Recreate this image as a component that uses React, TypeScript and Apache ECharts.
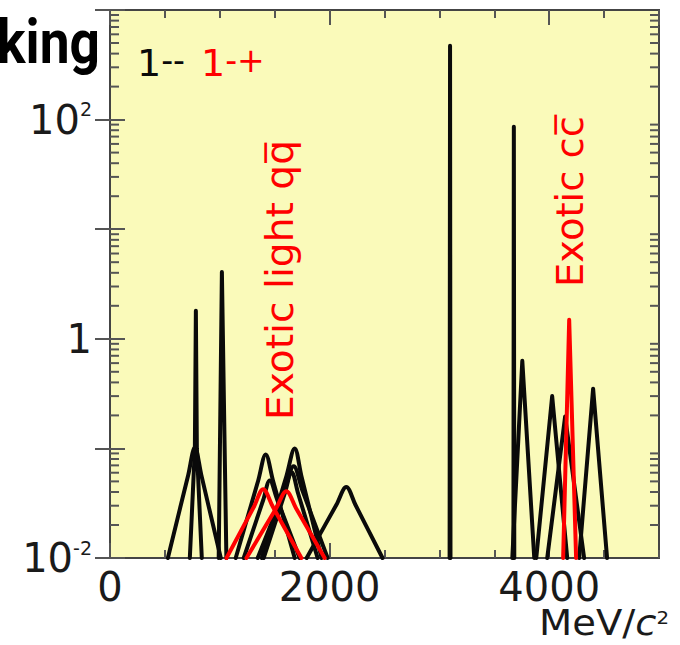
import React, { useEffect, useRef } from 'react';
import * as echarts from 'echarts';

// ---- axis definitions ----
const xMin = 0;
const xMax = 5000;
const xLabelValues = [0, 2000, 4000];
const yMin = 0.01;
const yMax = 1000;
const yLabelExponents = [-2, 0, 2];
const yMinorMantissas = [2, 3, 4, 5, 6, 7, 8, 9];
const yDecades = [0.01, 0.1, 1, 10, 100];

// ---- 1-- (black) resonance curves: [mass MeV, yield] ----
const rho770 = [[527, 0.01], [712, 0.057], [773, 0.102], [832, 0.057], [1009, 0.01]];
const omega782 = [[727, 0.01], [773, 0.1], [782, 1.8], [791, 0.1], [836, 0.01]];
const phi1020 = [[990, 0.01], [1019, 4.07], [1060, 0.01]];
const omega1420 = [[1145, 0.01], [1350, 0.051], [1418, 0.088], [1484, 0.051], [1682, 0.01]];
const rho1450 = [[1218, 0.01], [1396, 0.034], [1455, 0.051], [1523, 0.034], [1727, 0.01]];
const omega1650 = [[1382, 0.01], [1607, 0.056], [1682, 0.1], [1743, 0.056], [1927, 0.01]];
const rho1700 = [[1345, 0.01], [1591, 0.042], [1673, 0.0686], [1750, 0.042], [1982, 0.01]];
const phi1680 = [[1400, 0.01], [1591, 0.0386], [1655, 0.0605], [1714, 0.0386], [1891, 0.01]];
const rho2150 = [[1791, 0.01], [2062, 0.0306], [2152, 0.0445], [2235, 0.0306], [2482, 0.01]];
const jpsi = [[3093, 0.01], [3097, 471], [3101, 0.01]];
const psi2s = [[3674, 0.01], [3678, 86], [3682, 0.01]];
const psi3770 = [[3664, 0.01], [3755, 0.63], [3864, 0.01]];
const psi4040 = [[3882, 0.01], [4027, 0.3], [4164, 0.01]];
const psi4160 = [[3982, 0.01], [4145, 0.195], [4318, 0.01]];
const psi4415 = [[4273, 0.01], [4400, 0.35], [4527, 0.01]];

// ---- 1-+ (red) exotic curves ----
const pi1_1400 = [[1061, 0.01], [1312, 0.0295], [1395, 0.0424], [1482, 0.0295], [1743, 0.01]];
const pi1_1600 = [[1243, 0.01], [1515, 0.0286], [1606, 0.0407], [1693, 0.0286], [1955, 0.01]];
const exoticCc = [[4127, 0.01], [4182, 1.49], [4245, 0.01]];

const blackBroad = [rho770, omega1420, rho1450, omega1650, rho1700, phi1680, rho2150];
const blackNarrow = [omega782, phi1020, jpsi, psi2s, psi3770, psi4040, psi4160, psi4415];
const redBroad = [pi1_1400, pi1_1600];
const redNarrow = [exoticCc];

const BLACK = '#0a0a0a';
const RED = '#ff0000';
const TICK = '#555555';
const FONT = 'DejaVu Sans';

export default function App() {
  const ref = useRef<HTMLDivElement>(null);
  useEffect(() => {
    const chart = echarts.init(ref.current!, null, { renderer: 'svg' });

    const lineSeries = (data: number[][], color: string, smooth: number | boolean) => ({
      type: 'line',
      data,
      xAxisIndex: 0,
      yAxisIndex: 0,
      showSymbol: false,
      symbol: 'none',
      smooth,
      clip: true,
      silent: true,
      lineStyle: { color, width: 4, join: 'round', cap: 'round' },
      z: color === RED ? 4 : 3,
    });

    const minorTickData: number[][] = [];
    yDecades.forEach((d) => yMinorMantissas.forEach((m) => minorTickData.push([0, m * d])));

    const xAxisBase = (position: string, interval: number, len: number, showLabel: boolean) => ({
      type: 'value',
      gridIndex: 0,
      position,
      min: xMin,
      max: xMax,
      interval,
      axisLine: { show: false },
      splitLine: { show: false },
      axisTick: { show: true, inside: true, length: len, lineStyle: { color: TICK, width: 2 } },
      axisLabel: {
        show: showLabel,
        margin: 12,
        fontSize: 40,
        lineHeight: 34,
        fontFamily: FONT,
        color: '#1a1a1a',
        showMaxLabel: false,
        formatter: (v: number) => (xLabelValues.includes(v) ? String(v) : ''),
      },
    });

    const yAxisBase = (position: string, showLabel: boolean) => ({
      type: 'log',
      logBase: 10,
      gridIndex: 0,
      position,
      min: yMin,
      max: yMax,
      axisLine: { show: false },
      splitLine: { show: false },
      axisTick: { show: true, inside: true, length: 15, lineStyle: { color: TICK, width: 2 } },
      axisLabel: {
        show: showLabel,
        margin: 18,
        fontSize: 40,
        lineHeight: 40,
        fontFamily: FONT,
        color: '#1a1a1a',
        formatter: (v: number) => {
          const l = Math.log10(v);
          const e = Math.round(l);
          if (Math.abs(l - e) > 1e-6 || !yLabelExponents.includes(e)) return '';
          if (e === 0) return '1';
          return '10{s|' + String(e) + '}';
        },
        rich: {
          s: { fontSize: 19, lineHeight: 20, verticalAlign: 'top', fontFamily: FONT, color: '#1a1a1a' },
        },
      },
    });

    const option: any = {
      animation: false,
      grid: {
        left: 110,
        top: 10,
        right: 21,
        bottom: 87,
        show: true,
        backgroundColor: '#fafaba',
        borderColor: '#444444',
        borderWidth: 2,
      },
      xAxis: [
        xAxisBase('bottom', 2000, 15, true),
        xAxisBase('top', 2000, 15, false),
        xAxisBase('bottom', 500, 8, false),
        xAxisBase('top', 500, 8, false),
      ],
      yAxis: [yAxisBase('left', true), yAxisBase('right', false)],
      series: [
        {
          type: 'custom',
          xAxisIndex: 0,
          yAxisIndex: 0,
          silent: true,
          z: 5,
          data: minorTickData,
          renderItem: (params: any, api: any) => {
            const p = api.coord([0, api.value(1)]);
            const cs = params.coordSys;
            const y = p[1];
            const style = { stroke: TICK, lineWidth: 2 };
            return {
              type: 'group',
              children: [
                { type: 'line', shape: { x1: cs.x, y1: y, x2: cs.x + 9, y2: y }, style },
                { type: 'line', shape: { x1: cs.x + cs.width, y1: y, x2: cs.x + cs.width - 9, y2: y }, style },
              ],
            };
          },
        },
        ...blackBroad.map((d) => lineSeries(d, BLACK, 0.35)),
        ...blackNarrow.map((d) => lineSeries(d, BLACK, false)),
        ...redBroad.map((d) => lineSeries(d, RED, 0.35)),
        ...redNarrow.map((d) => lineSeries(d, RED, false)),
      ],
      graphic: [
        {
          type: 'text',
          x: 100,
          y: 42,
          scaleX: 0.86,
          style: {
            text: 'king',
            fontFamily: 'Roboto',
            fontWeight: 'bold',
            fontSize: 62,
            fill: '#000',
            align: 'right',
            verticalAlign: 'middle',
          },
        },
        {
          type: 'text',
          x: 137,
          y: 63,
          style: {
            text: '1{s|--}',
            fontFamily: FONT,
            fontSize: 38,
            lineHeight: 38,
            fill: BLACK,
            align: 'left',
            verticalAlign: 'middle',
            rich: { s: { fontSize: 33, lineHeight: 28, verticalAlign: 'top', fill: BLACK, fontFamily: FONT } },
          },
        },
        {
          type: 'text',
          x: 201,
          y: 63,
          style: {
            text: '1{s|-+}',
            fontFamily: FONT,
            fontSize: 38,
            lineHeight: 38,
            fill: RED,
            align: 'left',
            verticalAlign: 'middle',
            rich: { s: { fontSize: 33, lineHeight: 28, verticalAlign: 'top', fill: RED, fontFamily: FONT } },
          },
        },
        {
          type: 'text',
          x: 280,
          y: 420,
          rotation: Math.PI / 2,
          scaleX: 1.06,
          style: {
            text: 'Exotic light qq\u0305',
            fontFamily: FONT,
            fontSize: 37,
            fill: RED,
            align: 'left',
            verticalAlign: 'middle',
          },
        },
        {
          type: 'text',
          x: 570,
          y: 287,
          rotation: Math.PI / 2,
          scaleX: 1.04,
          style: {
            text: 'Exotic cc\u0305',
            fontFamily: FONT,
            fontSize: 37,
            fill: RED,
            align: 'left',
            verticalAlign: 'middle',
          },
        },
        {
          type: 'text',
          x: 669,
          y: 623,
          scaleX: 1.1,
          style: {
            text: 'MeV/{i|c}{s|2}',
            fontFamily: FONT,
            fontSize: 35,
            lineHeight: 30,
            fill: '#1a1a1a',
            align: 'right',
            verticalAlign: 'middle',
            rich: {
              i: { fontSize: 35, lineHeight: 30, fontStyle: 'italic', fill: '#1a1a1a', fontFamily: FONT },
              s: { fontSize: 18, lineHeight: 12, verticalAlign: 'top', fill: '#1a1a1a', fontFamily: FONT },
            },
          },
        },
      ],
    };
    chart.setOption(option);
    return () => chart.dispose();
  }, []);
  return <div ref={ref} style={{ position: 'absolute', left: 0, top: 0, width: 680, height: 645 }} />;
}
